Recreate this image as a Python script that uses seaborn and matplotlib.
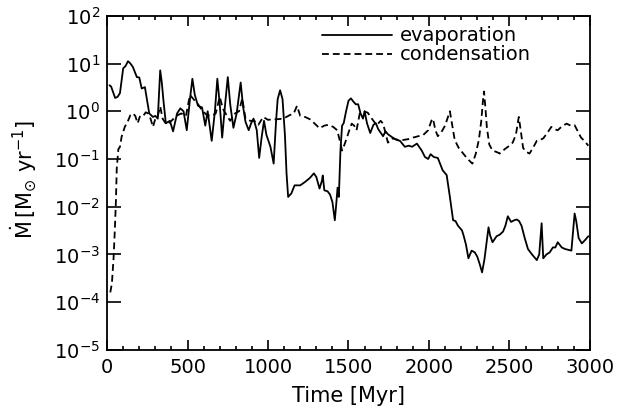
import numpy as np
import pandas as pd
import matplotlib
matplotlib.use("Agg")
import matplotlib.pyplot as plt
import seaborn as sns
from matplotlib.ticker import MultipleLocator, NullLocator

# Evaporation rate (solid line)
evap_time = [15, 25, 50, 65, 80, 100, 115, 130, 145, 160, 185, 200, 215, 235, 250, 262,
             285, 300, 315, 330, 340, 350, 365, 390, 410, 435, 455, 475, 495, 515, 530,
             545, 565, 590, 610, 625, 650, 670, 685, 700, 715, 735, 750, 765, 785, 805,
             830, 845, 860, 880, 895, 910, 930, 945, 960, 975, 990, 1015, 1035, 1050,
             1060, 1075, 1090, 1105, 1115, 1125, 1145, 1165, 1200, 1230, 1260, 1285,
             1300, 1320, 1335, 1340, 1350, 1370, 1385, 1400, 1415, 1425, 1432, 1440,
             1450, 1460, 1470, 1485, 1500, 1515, 1530, 1545, 1560, 1575, 1590, 1600,
             1615, 1635, 1655, 1670, 1685, 1715, 1730, 1745, 1775, 1800, 1820, 1850,
             1875, 1895, 1925, 1955, 1975, 1995, 2010, 2030, 2055, 2085, 2110, 2130,
             2150, 2165, 2180, 2205, 2215, 2230, 2245, 2265, 2285, 2300, 2315, 2330,
             2345, 2360, 2370, 2380, 2395, 2420, 2440, 2460, 2475, 2490, 2510, 2530,
             2545, 2560, 2575, 2595, 2615, 2640, 2670, 2685, 2700, 2710, 2730, 2750,
             2770, 2785, 2800, 2825, 2845, 2885, 2905, 2915, 2930, 2950, 2970, 2990]
evap_rate = [3.5, 3.3, 1.9, 2.0, 2.4, 7.9, 8.9, 11.2, 10.0, 8.5, 5.2, 5.1, 3.0, 3.2, 1.6, 0.9,
             0.76, 0.8, 0.7, 7.2, 4.0, 1.7, 0.56, 0.63, 0.38, 0.9, 1.15, 1.0, 0.4, 1.8, 4.8,
             2.2, 1.3, 1.2, 0.5, 1.0, 0.24, 1.0, 4.8, 1.4, 0.28, 1.6, 5.2, 1.4, 0.45, 0.9,
             4.0, 1.25, 0.6, 0.4, 0.56, 0.7, 0.4, 0.105, 0.28, 0.63, 0.32, 0.18, 0.08, 0.63,
             1.8, 2.75, 1.8, 0.32, 0.05, 0.016, 0.019, 0.028, 0.028, 0.033, 0.04, 0.05,
             0.042, 0.024, 0.035, 0.045, 0.022, 0.021, 0.018, 0.0126, 0.0052, 0.0126, 0.025, 0.016,
             0.15, 0.5, 0.56, 1.0, 1.66, 1.86, 1.6, 1.4, 1.4, 0.9, 0.7, 1.0,
             0.56, 0.35, 0.52, 0.56, 0.42, 0.3, 0.38, 0.33, 0.28, 0.25, 0.24, 0.18,
             0.19, 0.18, 0.21, 0.15, 0.11, 0.1, 0.126, 0.11, 0.105, 0.058, 0.046, 0.016,
             0.0052, 0.005, 0.004, 0.0032, 0.0025, 0.0016, 0.00083, 0.0012, 0.0011, 0.0009, 0.00063, 0.00042,
             0.0008, 0.002, 0.0037, 0.0025, 0.0018, 0.0024, 0.0026, 0.003, 0.004, 0.0063, 0.0048, 0.0052,
             0.0054, 0.005, 0.004, 0.0022, 0.0013, 0.001, 0.00076, 0.001, 0.0045, 0.00083, 0.001, 0.0011,
             0.0014, 0.0014, 0.0018, 0.0014, 0.0013, 0.0012, 0.0072, 0.005, 0.0022, 0.0017, 0.002, 0.0024]

# Condensation rate (dashed line)
cond_time = [20, 30, 40, 48, 55, 60, 70, 80, 90, 110, 130, 145, 160, 175, 190, 205, 225,
             240, 255, 270, 285, 300, 315, 330, 345, 370, 400, 430, 460, 490, 515, 545,
             565, 590, 620, 650, 675, 700, 720, 745, 765, 795, 820, 840, 860, 890, 915,
             940, 970, 1000, 1030, 1055, 1095, 1135, 1160, 1180, 1200, 1230, 1260, 1290,
             1320, 1350, 1375, 1405, 1430, 1445, 1460, 1475, 1490, 1505, 1520, 1535, 1550,
             1570, 1595, 1620, 1645, 1675, 1700, 1715, 1745, 1775, 1810, 1840, 1870, 1900,
             1935, 1965, 1995, 2015, 2025, 2040, 2055, 2080, 2100, 2120, 2130, 2145, 2160,
             2185, 2205, 2240, 2270, 2290, 2310, 2325, 2335, 2342, 2350, 2360, 2375, 2395,
             2420, 2440, 2470, 2500, 2520, 2540, 2558, 2570, 2585, 2605, 2625, 2650, 2670,
             2690, 2710, 2735, 2760, 2780, 2800, 2825, 2855, 2880, 2905, 2925, 2945, 2965, 2990]
cond_rate = [1.6e-4, 2.5e-4, 8e-4, 3.2e-3, 0.0135, 0.063, 0.16, 0.18, 0.29, 0.47, 0.63, 0.83, 0.9, 0.8, 0.56, 0.8, 0.8,
             0.95, 0.9, 0.7, 0.47, 0.7, 0.8, 1.26, 0.7, 0.52, 0.63, 0.8, 0.9, 0.8, 2.2, 1.66,
             1.4, 1.05, 0.83, 0.8, 0.9, 2.0, 1.12, 0.8, 0.63, 0.9, 1.0, 1.86, 0.7, 0.63, 0.63,
             0.52, 0.76, 0.66, 0.68, 0.68, 0.7, 0.83, 0.9, 1.3, 0.8, 0.76, 0.68, 0.55,
             0.44, 0.5, 0.52, 0.47, 0.4, 0.25, 0.15, 0.2, 0.28, 0.4, 0.55, 0.5, 0.4,
             0.9, 1.0, 0.93, 0.7, 0.51, 0.63, 0.55, 0.22, 0.27, 0.25, 0.25, 0.26, 0.28,
             0.3, 0.32, 0.4, 0.63, 0.7, 0.4, 0.3, 0.38, 0.5, 0.8, 1.0, 0.5, 0.25,
             0.17, 0.14, 0.1, 0.08, 0.126, 0.25, 0.63, 1.6, 2.6, 1.26, 0.45, 0.2, 0.15,
             0.14, 0.13, 0.16, 0.19, 0.22, 0.32, 0.76, 0.4, 0.17, 0.14, 0.13, 0.18, 0.24,
             0.25, 0.27, 0.35, 0.47, 0.42, 0.4, 0.48, 0.55, 0.5, 0.51, 0.38, 0.28, 0.24, 0.19]

x_ticks = [0, 500, 1000, 1500, 2000, 2500, 3000]
y_exponents = [-5, -4, -3, -2, -1, 0, 1, 2]

sns.set_style("ticks")
plt.rcParams['font.family'] = ['DejaVu Sans']
plt.rcParams['mathtext.default'] = 'regular'
plt.rcParams['mathtext.fontset'] = 'dejavusans'
for key in ['text.color', 'axes.labelcolor', 'xtick.color', 'ytick.color', 'axes.edgecolor']:
    plt.rcParams[key] = 'black'

evap_df = pd.DataFrame({"time": evap_time, "rate": evap_rate})
cond_df = pd.DataFrame({"time": cond_time, "rate": cond_rate})

fig = plt.figure(figsize=(6.19, 4.16), dpi=100)
ax = fig.add_axes([0.173, 0.159, 0.780, 0.803])

sns.lineplot(data=evap_df, x="time", y="rate", ax=ax, color="black", lw=1.3,
             estimator=None, sort=False, label="evaporation")
sns.lineplot(data=cond_df, x="time", y="rate", ax=ax, color="black", lw=1.3,
             estimator=None, sort=False, label="condensation")
ax.lines[1].set_dashes([3.8, 2.2])

ax.set_yscale("log")
ax.set_xlim(0, 3000)
ax.set_ylim(1e-5, 1e2)

ax.set_xticks(x_ticks)
ax.set_xticklabels([str(t) for t in x_ticks])
ax.xaxis.set_minor_locator(MultipleLocator(100))
ax.set_yticks([10.0 ** e for e in y_exponents])
ax.set_yticklabels([r"$10^{%d}$" % e if e >= 0 else r"$10^{-%d}$" % -e for e in y_exponents])
ax.yaxis.set_minor_locator(NullLocator())

ax.tick_params(axis="both", which="both", direction="in", top=True, right=True,
               labelsize=14, width=1.2)
ax.tick_params(axis="x", which="major", length=7, pad=6)
ax.tick_params(axis="x", which="minor", length=3)
ax.tick_params(axis="y", which="major", length=10, pad=5)
for s in ax.spines.values():
    s.set_linewidth(1.3)

ax.set_xlabel("Time [Myr]", fontsize=15, labelpad=6)
ax.set_ylabel(r"$\dot{M}\,[M_{\odot}\ yr^{-1}]$", fontsize=15, labelpad=8)
ax.yaxis.set_label_coords(-0.142, 0.51)

leg = ax.legend(loc="upper right", bbox_to_anchor=(0.878, 0.968), frameon=False,
                fontsize=14, handlelength=3.6, handletextpad=0.4, labelspacing=0.0,
                borderpad=0, borderaxespad=0)
for line in leg.get_lines():
    line.set_linewidth(1.3)

fig.savefig("out.png", dpi=100)
